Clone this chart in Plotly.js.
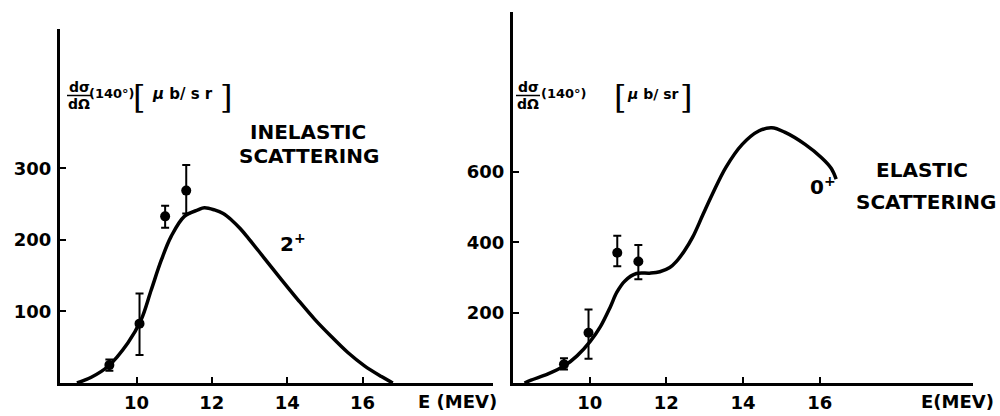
<!DOCTYPE html>
<html><head><meta charset="utf-8">
<script src="https://cdn.plot.ly/plotly-3.0.1.min.js"></script>
<style>html,body{margin:0;padding:0;background:#fff}#chart{width:1000px;height:416px}</style>
</head><body><div id="chart"></div>
<script>
// ---- Inelastic scattering (2+) ----
const inelCurveE = [8.42, 8.8, 9.24, 9.77, 10.12, 10.39, 10.66, 10.92, 11.27, 11.63, 11.8, 12.07, 12.3, 12.52, 12.75, 12.96, 13.4, 13.84, 14.29, 14.73, 15.17, 15.6, 16.05, 16.5, 16.8];
const inelCurveV = [0, 8, 23, 56, 88, 130, 172, 205, 233, 242, 245, 242, 237, 228, 216, 203, 174, 145, 116, 89, 65, 43, 24, 9, 0];
const inelPtE = [9.28, 10.08, 10.76, 11.32];
const inelPtV = [25, 83, 233, 269];
const inelErrPlus = [8, 42, 15, 36];
const inelErrMinus = [8, 44, 16, 32];
const inelTicksX = [10, 12, 14, 16];
const inelTicksY = [100, 200, 300];

// ---- Elastic scattering (0+) ----
const elCurveE = [8.3, 8.47, 8.9, 9.33, 9.67, 10.02, 10.28, 10.53, 10.71, 10.92, 11.22, 11.57, 11.83, 12.09, 12.26, 12.47, 12.69, 12.95, 13.2, 13.55, 13.98, 14.41, 14.75, 15.1, 15.62, 16.05, 16.3, 16.43];
const elCurveV = [0, 8, 25, 48, 77, 119, 160, 214, 258, 290, 311, 312, 316, 328, 345, 375, 415, 477, 536, 612, 678, 716, 725, 712, 678, 640, 610, 579];
const elPtE = [9.33, 9.97, 10.72, 11.27];
const elPtV = [53, 143, 370, 345];
const elErrPlus = [17, 66, 48, 47];
const elErrMinus = [15, 74, 38, 50];
const elTicksX = [10, 12, 14, 16];
const elTicksY = [200, 400, 600];

const W = 1000, H = 416, ML = 60, MR = 27, MT = 12, MB = 33;
const PW = W - ML - MR, PH = H - MT - MB;
const fx = p => (p - ML) / PW;
const fy = p => (H - MB - p) / PH;

const FONT = 'DejaVu Sans';
const tickFont = {family: FONT, size: 18, weight: 'bold', color: '#000'};

function curve(x, y, xa, ya) {
  return {x, y, xaxis: xa, yaxis: ya, type: 'scatter', mode: 'lines',
    line: {color: '#000', width: 3.5, shape: 'spline', smoothing: 1.0}, hoverinfo: 'skip', showlegend: false};
}
function points(x, y, ep, em, xa, ya) {
  return {x, y, xaxis: xa, yaxis: ya, type: 'scatter', mode: 'markers',
    marker: {color: '#000', size: 10, symbol: 'circle'},
    error_y: {type: 'data', symmetric: false, array: ep, arrayminus: em, color: '#000', thickness: 2, width: 4},
    showlegend: false};
}

const data = [
  curve(inelCurveE, inelCurveV, 'x', 'y'),
  points(inelPtE, inelPtV, inelErrPlus, inelErrMinus, 'x', 'y'),
  curve(elCurveE, elCurveV, 'x2', 'y2'),
  points(elPtE, elPtV, elErrPlus, elErrMinus, 'x2', 'y2')
];

function axis(extra) {
  return Object.assign({
    showline: true, linewidth: 3, linecolor: '#000', mirror: false,
    showgrid: false, zeroline: false, ticks: 'inside', ticklen: 6, tickwidth: 2, tickcolor: '#000',
    tickfont: tickFont, tickmode: 'array', fixedrange: true
  }, extra);
}

const bracketFont = {family: 'DejaVu Serif', size: 32, weight: 'normal', color: '#000'};
function ann(text, xpx, ypx, size, opts) {
  return Object.assign({
    text, x: fx(xpx), y: fy(ypx), xref: 'paper', yref: 'paper', showarrow: false,
    xanchor: 'center', yanchor: 'middle',
    font: {family: FONT, size, weight: 'bold', color: '#000'}
  }, opts || {});
}

const annotations = [
  // left y title
  ann('dσ', 79, 87, 14),
  ann('dΩ', 79, 104, 14),
  ann('(140°)', 112, 94, 13),
  ann('[', 139, 97, 32, {font: bracketFont}),
  ann('<i>μ</i> b/ s r', 182, 94, 15),
  ann(']', 226, 97, 32, {font: bracketFont}),
  // right y title
  ann('dσ', 528, 87, 14),
  ann('dΩ', 528, 104, 14),
  ann('(140°)', 564, 94, 13),
  ann('[', 620, 97, 32, {font: bracketFont}),
  ann('<i>μ</i> b/ sr', 653, 94, 14),
  ann(']', 686, 97, 32, {font: bracketFont}),
  // left labels
  ann('INELASTIC', 308, 132, 20),
  ann('SCATTERING', 309, 156, 20),
  ann('2<sup>+</sup>', 293, 243, 20),
  ann('E (MEV)', 457, 402, 18),
  // right labels
  ann('ELASTIC', 922, 170, 20),
  ann('SCATTERING', 926, 202, 20),
  ann('0<sup>+</sup>', 823, 186, 20),
  ann('E(MEV)', 957, 402, 18)
];

const shapes = [
  {type: 'line', xref: 'paper', yref: 'paper', x0: fx(67), x1: fx(91), y0: fy(95.5), y1: fy(95.5), line: {color: '#000', width: 1.5}},
  {type: 'line', xref: 'paper', yref: 'paper', x0: fx(516), x1: fx(540), y0: fy(95.5), y1: fy(95.5), line: {color: '#000', width: 1.5}}
];

const layout = {
  width: W, height: H,
  margin: {l: ML, r: MR, t: MT, b: MB, pad: 0},
  paper_bgcolor: '#fff', plot_bgcolor: 'rgba(0,0,0,0)',
  showlegend: false,
  xaxis: axis({domain: [0, fx(493)], range: [7.97, 19.46], tickvals: inelTicksX, ticktext: inelTicksX.map(String), anchor: 'y', ticklabelstandoff: 1}),
  yaxis: axis({domain: [0, fy(29)], range: [0, 495], tickvals: inelTicksY, ticktext: inelTicksY.map(String), anchor: 'x', ticklabelstandoff: 2}),
  xaxis2: axis({domain: [fx(513), 1], range: [8, 20], tickvals: elTicksX, ticktext: elTicksX.map(String), anchor: 'y2', ticklabelstandoff: 1}),
  yaxis2: axis({domain: [0, 1], range: [0, 1054], tickvals: elTicksY, ticktext: elTicksY.map(String), anchor: 'x2', ticklabelstandoff: 2}),
  annotations, shapes
};

Plotly.newPlot('chart', data, layout, {displayModeBar: false, staticPlot: true});
</script>
</body></html>
